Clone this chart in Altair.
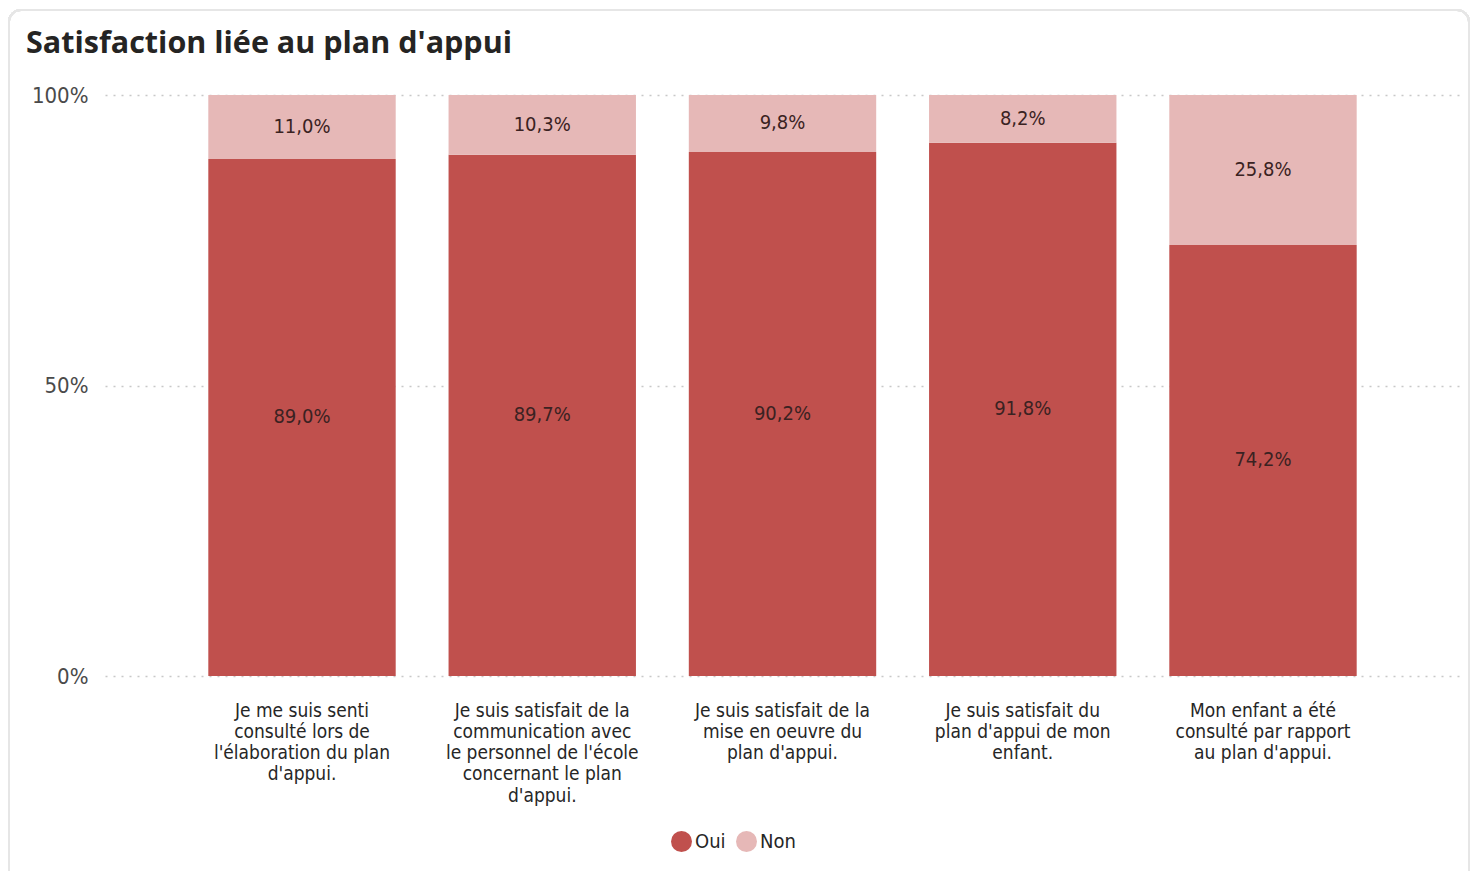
import altair as alt
import pandas as pd

categories = [
    "Je me suis senti|consulté lors de|l'élaboration du plan|d'appui.",
    "Je suis satisfait de la|communication avec|le personnel de l'école|concernant le plan|d'appui.",
    "Je suis satisfait de la|mise en oeuvre du|plan d'appui.",
    "Je suis satisfait du|plan d'appui de mon|enfant.",
    "Mon enfant a été|consulté par rapport|au plan d'appui.",
]
oui = [89.0, 89.7, 90.2, 91.8, 74.2]
non = [11.0, 10.3, 9.8, 8.2, 25.8]
series = ["Oui", "Non"]
colors = ["#C0504D", "#E6B8B7"]

rows = []
for c, o, n in zip(categories, oui, non):
    rows.append({"cat": c, "rep": "Oui", "ord": 0, "v": o})
    rows.append({"cat": c, "rep": "Non", "ord": 1, "v": n})
df = pd.DataFrame(rows)

FONT = "Liberation Sans Narrow, DejaVu Sans Condensed, Roboto, sans-serif"

base = alt.Chart(df).transform_calculate(
    p="datum.v / 100"
).transform_stack(
    stack="p", as_=["y0", "y1"], groupby=["cat"], sort=[alt.SortField("ord", order="ascending")]
).transform_calculate(
    mid="(datum.y0 + datum.y1) / 2",
    lbl="replace(format(datum.v, '.1f'), '.', ',') + '%'",
)

xenc = alt.X(
    "cat:N",
    sort=categories,
    title=None,
    scale=alt.Scale(paddingInner=0.22, paddingOuter=0.43),
    axis=alt.Axis(
        labelAngle=0,
        labelExpr="split(datum.label, '|')",
        labelFont=FONT,
        labelFontSize=19,
        labelLineHeight=21.3,
        labelColor="#262626",
        labelPadding=25,
        labelLimit=400,
        ticks=False,
        domain=False,
        grid=False,
    ),
)

bars = base.mark_bar().encode(
    x=xenc,
    y=alt.Y(
        "y0:Q",
        title=None,
        scale=alt.Scale(domain=[0, 1], nice=False),
        axis=alt.Axis(
            values=[0, 0.5, 1],
            format=".0%",
            labelFont=FONT,
            labelFontSize=22,
            labelColor="#4a4a4a",
            labelPadding=17,
            ticks=False,
            domain=False,
            grid=True,
            gridColor="#c8c8c8",
            gridDash=[2, 6],
            gridWidth=1.5,
        ),
    ),
    y2="y1:Q",
    color=alt.Color(
        "rep:N",
        scale=alt.Scale(domain=series, range=colors),
        legend=alt.Legend(
            title=None,
            orient="none",
            direction="horizontal",
            legendX=566,
            legendY=736,
            symbolType="circle",
            symbolSize=440,
            symbolStrokeWidth=0,
            labelFont=FONT,
            labelFontSize=20,
            labelColor="#262626",
            labelOffset=3,
            columnPadding=10,
        ),
    ),
    order=alt.Order("ord:Q"),
)

texts = base.mark_text(font=FONT, fontSize=20, color="#3a2222").encode(
    x=alt.X("cat:N", sort=categories),
    y=alt.Y("mid:Q"),
    text="lbl:N",
)

frame = alt.Chart(df).mark_rect(
    fill="white", fillOpacity=0, stroke="#e6e6e6", strokeWidth=2, cornerRadius=12
).encode(
    x=alt.value(-96), x2=alt.value(1364), y=alt.value(-85), y2=alt.value(800)
)

chart = alt.layer(frame, bars, texts).properties(
    width=1355,
    height=581,
    autosize=alt.AutoSizeParams(type="none"),
    padding={"left": 97, "top": 87, "right": 10, "bottom": 195},
    title=alt.TitleParams(
        "Satisfaction liée au plan d'appui",
        anchor="start",
        frame="group",
        font="Open Sans",
        fontSize=30.5,
        fontWeight="bold",
        color="#252423",
        dx=-79,
        dy=50,
        offset=0,
    ),
).configure_view(stroke=None)

chart.save("out.html", embed_options={"renderer": "svg", "actions": False})
